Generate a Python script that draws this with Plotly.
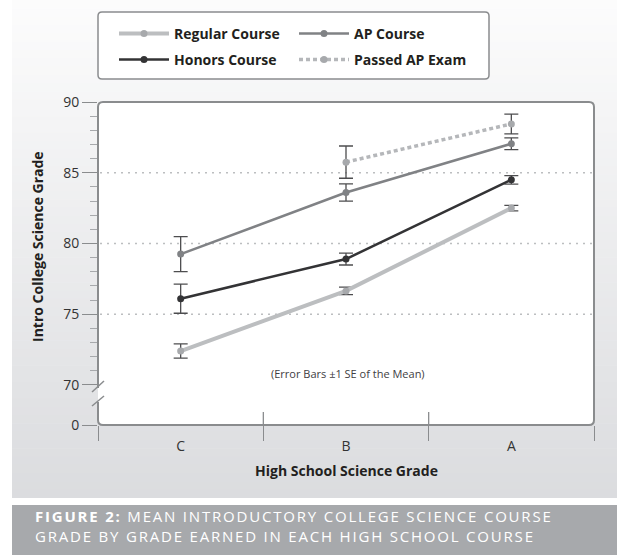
import plotly.graph_objects as go

# ---------------- data ----------------
categories = ["C", "B", "A"]
regular = [72.4, 76.65, 82.5]
regular_se = [0.5, 0.26, 0.2]
honors = [76.1, 78.9, 84.5]
honors_se = [1.03, 0.42, 0.3]
ap = [79.25, 83.6, 87.05]
ap_se = [1.24, 0.61, 0.41]
passed = [None, 85.75, 88.45]
passed_se = [0, 1.14, 0.7]

ytick_vals = [67.17, 70, 75, 80, 85, 90]
ytick_text = ["0", "70", "75", "80", "85", "90"]
yminor_vals = [v for v in range(71, 90) if v % 5 != 0]
grid_vals = [75, 80, 85]

# ---------------- geometry helpers ----------------
W, H = 617, 555
L, R, T, B = 98, 594, 102, 425
PW, PH = R - L, B - T


def px(x):
    return (x - L) / PW


def py(y):
    return (B - y) / PH


FONT = "Open Sans"
TXT = "#231f20"
AXC = "#8a8c8e"

fig = go.Figure()

series = [
    ("Regular Course", regular, regular_se, "#bcbec0", "#a7a9ac", 4, "solid", "legend", 7),
    ("Honors Course", honors, honors_se, "#333335", "#333335", 2.5, "solid", "legend2", 7),
    ("AP Course", ap, ap_se, "#808285", "#808285", 2.5, "solid", "legend", 7),
    ("Passed AP Exam", passed, passed_se, "#b5b7ba", "#a7a9ac", 3.5, "4px,3px", "legend2", 7),
]
for name, vals, se, lc, mc, lw, dash, lg, ms in series:
    fig.add_trace(go.Scatter(
        x=categories, y=vals, name=name, mode="lines+markers",
        line=dict(color=lc, width=lw, dash=dash),
        marker=dict(color=mc, size=ms),
        error_y=dict(type="data", array=se, color="#4d4d4f", thickness=1.3, width=7),
        legend=lg,
    ))

shapes = []
# background gradient bands
nb = 60
top_c, bot_c = (252, 252, 252), (219, 220, 223)
y_top, y_bot = 0, 498
for i in range(nb):
    t = i / (nb - 1)
    c = tuple(round(top_c[k] + (bot_c[k] - top_c[k]) * t) for k in range(3))
    ya = y_top + (y_bot - y_top) * i / nb
    yb = y_top + (y_bot - y_top) * (i + 1) / nb + 0.5
    shapes.append(dict(type="rect", xref="paper", yref="paper", layer="below",
                       x0=px(12), x1=px(W + 2), y0=py(min(yb, y_bot)), y1=py(ya),
                       fillcolor="rgb(%d,%d,%d)" % c, line=dict(width=0)))

# caption bar
shapes.append(dict(type="rect", xref="paper", yref="paper", layer="below",
                   x0=px(12), x1=px(W + 2), y0=py(H + 2), y1=py(505),
                   fillcolor="#a7a9ac", line=dict(width=0)))


def rounded(x0, y0, x1, y1, r):
    rx, ry = r / PW, r / PH
    X0, X1, Y0, Y1 = px(x0), px(x1), py(y1), py(y0)
    return (f"M{X0},{Y1-ry} L{X0},{Y0+ry} Q{X0},{Y0} {X0+rx},{Y0} L{X1-rx},{Y0} "
            f"Q{X1},{Y0} {X1},{Y0+ry} L{X1},{Y1-ry} Q{X1},{Y1} {X1-rx},{Y1} "
            f"L{X0+rx},{Y1} Q{X0},{Y1} {X0},{Y1-ry} Z")


# legend box
shapes.append(dict(type="path", xref="paper", yref="paper", layer="below",
                   path=rounded(98, 12, 489, 79, 4), fillcolor="white",
                   line=dict(color=AXC, width=1.5)))
# plot area fill
shapes.append(dict(type="path", xref="paper", yref="paper", layer="below",
                   path=rounded(L, T, R, B, 5), fillcolor="white", line=dict(width=0)))
# plot border with break on the left
rx, ry = 5 / PW, 5 / PH
X0, X1, Y0, Y1 = px(L), px(R), py(B), py(T)
border = (f"M{X0},{py(388)} L{X0},{Y1-ry} Q{X0},{Y1} {X0+rx},{Y1} L{X1-rx},{Y1} "
          f"Q{X1},{Y1} {X1},{Y1-ry} L{X1},{Y0+ry} Q{X1},{Y0} {X1-rx},{Y0} "
          f"L{X0+rx},{Y0} Q{X0},{Y0} {X0},{Y0+ry} L{X0},{py(402)}")
shapes.append(dict(type="path", xref="paper", yref="paper", layer="above",
                   path=border, line=dict(color=AXC, width=2)))
# break marks
for (xa, ya, xb, yb) in [(92, 392, 104, 381), (92, 406, 104, 396)]:
    shapes.append(dict(type="line", xref="paper", yref="paper", layer="above",
                       x0=px(xa), y0=py(ya), x1=px(xb), y1=py(yb),
                       line=dict(color=AXC, width=1.5)))
# dotted gridlines
for g in grid_vals:
    shapes.append(dict(type="line", xref="paper", yref="y", layer="below",
                       x0=px(L + 2), x1=px(R - 1), y0=g, y1=g,
                       line=dict(color="#bcbec0", width=1.5, dash="2px,5px")))
# inner part of category boundary ticks
for i in range(len(categories) - 1):
    shapes.append(dict(type="line", xref="x", yref="paper", layer="above",
                       x0=i + 0.5, x1=i + 0.5, y0=py(412), y1=py(B),
                       line=dict(color=AXC, width=1.3)))

annotations = [
    dict(text="Intro College Science Grade", xref="paper", yref="paper",
         x=px(37), y=py(247), textangle=-90, showarrow=False,
         xanchor="center", yanchor="middle",
         font=dict(family=FONT, size=14, color=TXT, weight="bold")),
    dict(text="High School Science Grade", xref="paper", yref="paper",
         x=px(346), y=py(470), showarrow=False, xanchor="center", yanchor="middle",
         font=dict(family=FONT, size=14, color=TXT, weight="bold")),
    dict(text="(Error Bars ±1 SE of the Mean)", xref="paper", yref="paper",
         x=px(348), y=py(373), showarrow=False, xanchor="center", yanchor="middle",
         font=dict(family=FONT, size=11, color="#414042")),
    dict(text=('<span style="letter-spacing:1.8px"><b>FIGURE 2:</b> MEAN INTRODUCTORY COLLEGE SCIENCE COURSE'
               '<br>GRADE BY GRADE EARNED IN EACH HIGH SCHOOL COURSE</span>'),
         xref="paper", yref="paper", x=px(33), y=py(526), xanchor="left", yanchor="middle",
         align="left", showarrow=False,
         font=dict(family=FONT, size=15, color="white")),
]

legend_common = dict(orientation="h", xanchor="left", yanchor="middle",
                     entrywidth=115, entrywidthmode="pixels", itemwidth=50,
                     bgcolor="rgba(0,0,0,0)", borderwidth=0,
                     font=dict(family=FONT, size=14, color=TXT, weight="bold"))

fig.update_layout(
    width=W, height=H,
    margin=dict(l=L, r=W - R, t=T, b=H - B, pad=0),
    paper_bgcolor="white", plot_bgcolor="rgba(0,0,0,0)",
    font=dict(family=FONT, size=14, color="#333333"),
    showlegend=True,
    legend=dict(legend_common, x=px(114), y=py(34)),
    legend2=dict(legend_common, x=px(114), y=py(60)),
    xaxis=dict(type="category", range=[-0.5, 2.5], showgrid=False, showline=False,
               zeroline=False, ticks="outside", ticklen=15, tickcolor=AXC, tickwidth=1.3,
               tickson="boundaries", ticklabelstandoff=11,
               tickfont=dict(family=FONT, size=14, color="#333333"),
               fixedrange=True),
    yaxis=dict(range=[67.17, 90], showgrid=False, showline=False, zeroline=False,
               tickmode="array", tickvals=ytick_vals, ticktext=ytick_text,
               ticks="outside", ticklen=15, tickcolor=AXC, tickwidth=1.3,
               tickfont=dict(family=FONT, size=14, color="#333333"),
               minor=dict(tickmode="array", tickvals=yminor_vals, ticks="outside",
                          ticklen=7, tickcolor="#a7a9ac", tickwidth=1),
               fixedrange=True),
    shapes=shapes,
    annotations=annotations,
)

fig.write_html("out.html", config={"displayModeBar": False},
               post_script="document.body.style.margin='0';document.body.style.overflow='hidden';")
